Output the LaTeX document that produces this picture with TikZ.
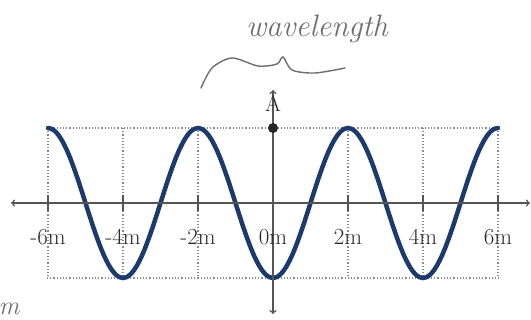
\documentclass[tikz,border=0pt]{standalone}
\usepackage{xcolor}
\usepackage{tikz}
\definecolor{C1C3A6B}{HTML}{1C3A6B}
\definecolor{C555555}{HTML}{555555}
\definecolor{C2A2A2A}{HTML}{2A2A2A}
\definecolor{C8A8A8A}{HTML}{8A8A8A}
\definecolor{C6E6E6E}{HTML}{6E6E6E}
\begin{document}
\begin{tikzpicture}[inner sep=0pt,x=1pt,y=1pt]
\useasboundingbox (0,0) rectangle (531,-320);

% axis ends
\coordinate (xl) at (11,-203);
\coordinate (xr) at (530,-203);
\coordinate (yb) at (273,-314);
\coordinate (yt) at (273,-90);

% dotted frame
\foreach \i in {-6,-4,-2,2,4,6}
  \path [dotted,line width=1.2pt,draw=C8A8A8A] ({273+37.5*\i},-128)--({273+37.5*\i},-278);
\path [dotted,line width=1.2pt,draw=C8A8A8A] (47,-128)--(499,-128);
\path [dotted,line width=1.2pt,draw=C8A8A8A] (47,-278)--(499,-278);

% wave
\path [draw=C1C3A6B,line width=4.5pt,line cap=round] plot[domain=-6:6,samples=121,smooth] ({273+37.5*\x},{-203-75*cos(90*\x)});

% axes
\path [<->,line width=1.5pt,draw=C555555](xl)--(xr);
\path [<->,line width=1.5pt,draw=C555555](yb)--(yt);
\foreach \i in {-6,-4,-2,2,4,6}
  \path [line width=1.2pt,draw=C555555] ({273+37.5*\i},-195)--({273+37.5*\i},-211);

% tick labels
\foreach \i in {-6,-4,-2,0,2,4,6}
  \node (l\i) [at={({273+37.5*\i},-237)},font=\fontsize{23}{25}\selectfont,text=C2A2A2A] {\i m};

\node (amp) [at={(273,-103)},font=\fontsize{23}{25}\selectfont,text=C2A2A2A] {A};
\node (top) [at={(273,-128)},shape=circle,fill=black!85,minimum size=10pt] {};

% pencil notes
\node (wl) [at={(317,-29)},font=\fontsize{31}{33}\selectfont\itshape,text=C6E6E6E] {wavelength};
\path [line width=1.4pt,draw=C6E6E6E,line cap=round] plot[smooth] coordinates {(201,-88) (212,-68) (232,-58) (258,-66) (277,-64) (283,-57) (292,-70) (315,-73) (345,-68)};
\node (un) [at={(9,-309)},font=\fontsize{26}{28}\selectfont\itshape,text=C6E6E6E] {m};
\end{tikzpicture}
\end{document}
